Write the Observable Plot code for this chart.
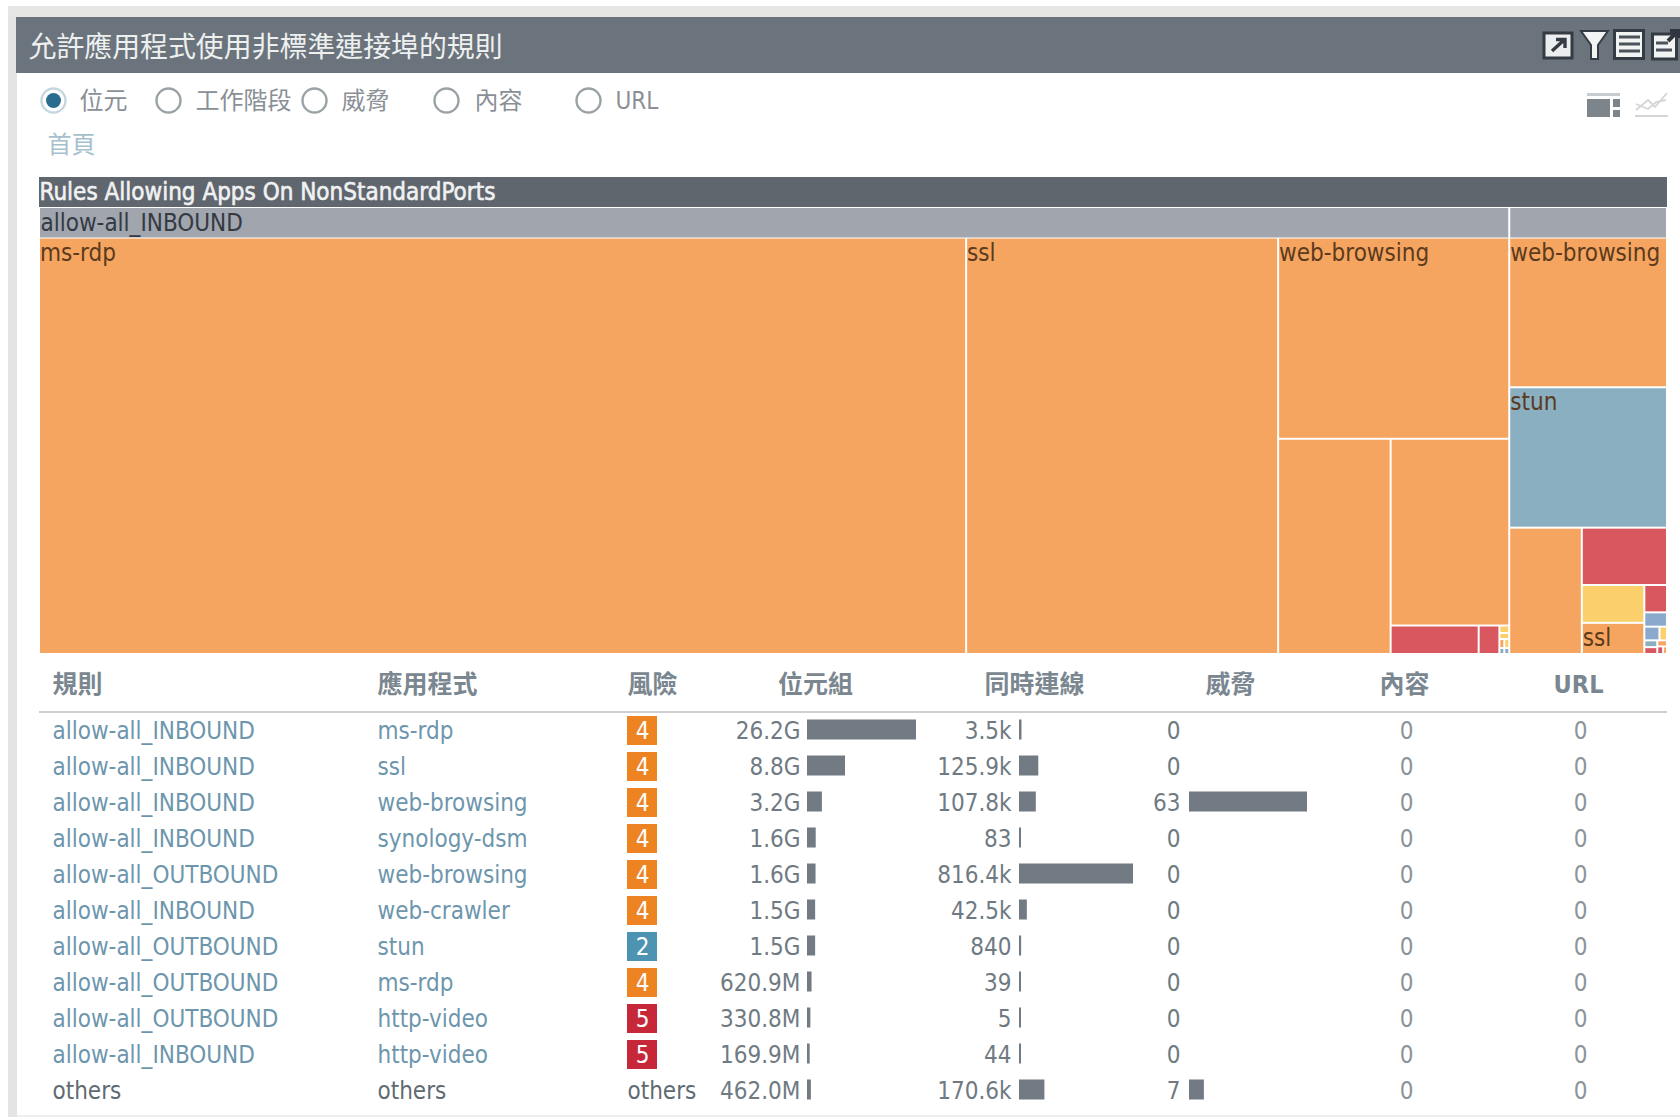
<!DOCTYPE html>
<html lang="zh-Hant">
<head>
<meta charset="utf-8">
<title>允許應用程式使用非標準連接埠的規則</title>
<script src="https://cdn.jsdelivr.net/npm/d3@7"></script>
<script src="https://cdn.jsdelivr.net/npm/@observablehq/plot@0.6"></script>
<style>html,body{margin:0;padding:0;background:#fff;overflow:hidden}svg{display:block}</style>
</head>
<body>
<div id="chart"></div>
<script>
// ---- table data ----
const rules = ["allow-all_INBOUND","allow-all_INBOUND","allow-all_INBOUND","allow-all_INBOUND","allow-all_OUTBOUND","allow-all_INBOUND","allow-all_OUTBOUND","allow-all_OUTBOUND","allow-all_OUTBOUND","allow-all_INBOUND","others"];
const apps = ["ms-rdp","ssl","web-browsing","synology-dsm","web-browsing","web-crawler","stun","ms-rdp","http-video","http-video","others"];
const risks = [4,4,4,4,4,4,2,4,5,5,"others"];
const bytesLabels = ["26.2G","8.8G","3.2G","1.6G","1.6G","1.5G","1.5G","620.9M","330.8M","169.9M","462.0M"];
const bytesValues = [26150,8800,3150,1640,1600,1500,1500,620.9,330.8,169.9,462];
const sessionLabels = ["3.5k","125.9k","107.8k","83","816.4k","42.5k","840","39","5","44","170.6k"];
const sessionValues = [3500,125900,107800,83,816400,42500,840,39,5,44,170600];
const threatValues = [0,0,63,0,0,0,0,0,0,0,7];
const contentValues = [0,0,0,0,0,0,0,0,0,0,0];
const urlValues = [0,0,0,0,0,0,0,0,0,0,0];
const columnHeads = ["規則","應用程式","風險","位元組","同時連線","威脅","內容","URL"];
// ---- small treemap cells rolled into "others" in the table (bytes in M, risk) ----
const smallInbound = [["app-a",40,5],["app-b",5,3],["app-c",4,3],["app-d",3,4],["app-e",3,3],["app-f",2,2],["app-g",2,1]];
const smallOutbound = [["app-h",160,3],["ssl",132,4],["app-i",42,5],["app-j",22,1],["app-k",14,1],["app-l",7,3],["app-m",6,2],["app-n",6,5],["app-o",4,4],["app-p",3,5],["app-q",2,4]];
const treemapColors = {1:"#8aa9cc",2:"#8aafc1",3:"#fbcf6b",4:"#f5a55f",5:"#d9575f"};
const badgeColors = {2:"#4d94b3",4:"#ee8322",5:"#c6283a"};

const latin = "'DejaVu Sans Condensed','DejaVu Sans',sans-serif";
const cjk = "'Noto Sans CJK TC','Noto Sans',sans-serif";
const mixed = "'DejaVu Sans Condensed','Noto Sans CJK TC',sans-serif";

// ---- treemap layout from the values ----
const leaves = (rule) => rules.map((r,i)=>({r,i})).filter(d=>d.r===rule)
  .map(d=>({name:apps[d.i],value:bytesValues[d.i],risk:risks[d.i]}));
const fromSmall = s => s.map(([name,value,risk])=>({name,value,risk}));
const tree = {name:"root",children:[
  {name:"allow-all_INBOUND",children:[...leaves("allow-all_INBOUND"),...fromSmall(smallInbound)]},
  {name:"allow-all_OUTBOUND",children:[...leaves("allow-all_OUTBOUND"),...fromSmall(smallOutbound)]}
]};
const root = d3.hierarchy(tree).sum(d=>d.value||0).sort((a,b)=>b.value-a.value);
d3.treemap().tile(d3.treemapSquarify.ratio(1)).size([1628,446])
  .paddingTop(d=>d.depth===1?29.5:0)(root);
root.each(d=>{d.x0+=39;d.x1+=39;d.y0+=208;d.y1+=208;});
const groups = root.children;
const cells = root.leaves();
const labelled = cells.filter(d=>d.x1-d.x0 >= d.data.name.length*12.5 && d.y1-d.y0 >= 24);

// ---- table rows ----
const rowY = d3.scaleLinear().domain([0,1]).range([730.5,766.5]);
const rows = rules.map((rule,i)=>({i,rule,app:apps[i],risk:risks[i],bl:bytesLabels[i],b:bytesValues[i],sl:sessionLabels[i],s:sessionValues[i],t:threatValues[i],c:contentValues[i],u:urlValues[i],y:rowY(i)}));
const barEnd = (start,len,max) => v => start+2+(v/max)*(len-2);
const bytesEnd = barEnd(807,109,d3.max(bytesValues));
const sessEnd = barEnd(1019,114,d3.max(sessionValues));
const threatEnd = barEnd(1189,118,d3.max(threatValues));
const linkColor = d=>d.rule==="others"?"#5f6b73":"#6d96ad";

const text = (data,o)=>Plot.text(data,{lineAnchor:"middle",textAnchor:"start",fontFamily:latin,fontSize:24,...o});
const one = (o)=>text([0],o);
const band = (x1,x2,y1,y2,fill)=>Plot.rect([0],{x1:()=>x1,x2:()=>x2,y1:()=>y1,y2:()=>y2,fill});

// ---- icons (panel chrome) ----
const icons = () => {
  const g = document.createElementNS("http://www.w3.org/2000/svg","g");
  g.innerHTML = `
  <rect x="1544" y="33" width="28" height="25" fill="#ecedee" stroke="#343b42" stroke-width="3"/>
  <path d="M1552 51 L1564 40 M1556 39.5 H1565 V48" fill="none" stroke="#343b42" stroke-width="3.4"/>
  <path d="M1581 31 H1608 L1598 45 V59 H1591 V45 Z" fill="#f2f3f3" stroke="#343b42" stroke-width="2"/>
  <rect x="1614.5" y="30.5" width="29" height="28" fill="#f2f3f3" stroke="#343b42" stroke-width="3"/>
  <path d="M1619 37 H1640 M1619 44 H1640 M1619 51 H1640" stroke="#4a525a" stroke-width="3"/>
  <rect x="1652.5" y="34" width="24" height="25" fill="#f2f3f3" stroke="#343b42" stroke-width="3"/>
  <path d="M1656 43 H1668 M1656 50 H1672" stroke="#4a525a" stroke-width="3"/>
  <path d="M1668 41 L1678 31 M1670 31 H1680 V38" fill="none" stroke="#2f363d" stroke-width="4"/>
  <rect x="1587" y="93" width="33" height="3" fill="#c8ccd0"/>
  <rect x="1587" y="99" width="23" height="18" fill="#7c848c"/>
  <rect x="1613" y="99" width="7" height="8" fill="#7c848c"/>
  <rect x="1613" y="110" width="7" height="7" fill="#7c848c"/>
  <path d="M1636 110 L1648 100 L1655 107 L1667 93 M1636 104 L1648 109 L1656 102 L1666 100 M1635 116 H1668" fill="none" stroke="#d4d6d6" stroke-width="1.8"/>`;
  return g;
};

const radios = [{x:53,on:true},{x:168},{x:314},{x:446},{x:588}];
const radioText = [{x:79,t:"位元"},{x:195,t:"工作階段"},{x:341,t:"威脅"},{x:474,t:"內容"},{x:615,t:"URL"}];
const headsStart = [{x:52,c:0},{x:377,c:1},{x:627,c:2}];
const headsMiddle = [{x:815,c:3},{x:1034,c:4},{x:1230,c:5},{x:1404,c:6},{x:1578,c:7}];
const headStyle = {x:"x",y:()=>684,text:d=>columnHeads[d.c],fontFamily:mixed,fontSize:25,fontWeight:"bold",fill:"#7b8790"};

const chart = Plot.plot({
  width:1680,height:1117,margin:0,
  x:{domain:[0,1680],range:[0,1680],axis:null},
  y:{domain:[0,1117],range:[0,1117],axis:null},
  color:{type:"identity"},
  style:{background:"#fff"},
  marks:[
    // panel
    band(8,1680,6,17,"#e6e6e4"),
    band(8,17,17,1117,"#e4e4e4"),
    band(17,1680,1115,1117,"#eeeeee"),
    band(16,1680,17,73,"#6b747c"),
    one({x:()=>28,y:()=>47.5,text:()=>"允許應用程式使用非標準連接埠的規則",fontFamily:cjk,fontSize:27.9,fill:"#eef0f0"}),
    icons,
    // radios
    Plot.dot(radios,{x:"x",y:()=>100,r:12,stroke:d=>d.on?"#c4d6df":"#9aa2a6",strokeWidth:2.4,fill:"#fff"}),
    Plot.dot(radios.filter(d=>d.on),{x:"x",y:()=>100,r:7.5,fill:"#2a6d8f"}),
    text(radioText,{x:"x",y:()=>101,text:"t",fontFamily:mixed,fontSize:24,fill:"#8a9096"}),
    one({x:()=>47,y:()=>145,text:()=>"首頁",fontFamily:cjk,fontSize:24,fill:"#a6c1cd"}),
    // treemap
    band(39,1667,177,207,"#5f666e"),
    one({x:()=>39,y:()=>192,text:()=>"Rules Allowing Apps On NonStandardPorts",fontSize:24,fill:"#f0f1f2",stroke:"#f0f1f2",strokeWidth:0.6}),
    Plot.rect(groups,{x1:d=>d.x0,x2:d=>d.x1,y1:d=>d.y0,y2:d=>d.y0+29.5,insetRight:1,insetLeft:1,fill:()=>"#a0a5ae"}),
    text(groups.slice(0,1),{x:d=>d.x0+1,y:d=>d.y0+15,text:d=>d.data.name,fill:"#333a42"}),
    Plot.rect(cells,{x1:d=>d.x0,x2:d=>d.x1,y1:d=>d.y0,y2:d=>d.y1,inset:1,fill:d=>treemapColors[d.data.risk]}),
    text(labelled,{x:d=>d.x0+0.5,y:d=>d.y0+15,text:d=>d.data.name,fill:"#5b3a1e"}),
    // table head
    text(headsStart,headStyle),
    text(headsMiddle,{...headStyle,textAnchor:"middle"}),
    Plot.rect([0],{x1:()=>39,x2:()=>1667,y1:()=>711,y2:()=>713,fill:"#cfcfcf"}),
    // table rows
    text(rows,{x:()=>52,y:"y",text:"rule",fill:linkColor}),
    text(rows,{x:()=>377,y:"y",text:"app",fill:linkColor}),
    Plot.rect(rows.filter(d=>d.risk!=="others"),{x1:()=>627,x2:()=>657,y1:d=>d.y-14.5,y2:d=>d.y+14.5,fill:d=>badgeColors[d.risk]}),
    text(rows.filter(d=>d.risk!=="others"),{x:()=>642,y:"y",text:"risk",textAnchor:"middle",fill:"#fff"}),
    text(rows.filter(d=>d.risk==="others"),{x:()=>627,y:"y",text:"risk",fill:"#5f6b73"}),
    text(rows,{x:()=>800,y:"y",text:"bl",textAnchor:"end",fill:"#6f7a82"}),
    Plot.rect(rows,{x1:()=>807,x2:d=>bytesEnd(d.b),y1:d=>d.y-11,y2:d=>d.y+9,fill:"#727b84"}),
    text(rows,{x:()=>1011,y:"y",text:"sl",textAnchor:"end",fill:"#6f7a82"}),
    Plot.rect(rows,{x1:()=>1019,x2:d=>sessEnd(d.s),y1:d=>d.y-11,y2:d=>d.y+9,fill:"#727b84"}),
    text(rows,{x:()=>1180,y:"y",text:"t",textAnchor:"end",fill:"#6f7a82"}),
    Plot.rect(rows.filter(d=>d.t>0),{x1:()=>1189,x2:d=>threatEnd(d.t),y1:d=>d.y-11,y2:d=>d.y+9,fill:"#727b84"}),
    text(rows,{x:()=>1413,y:"y",text:"c",textAnchor:"end",fill:"#8a949b"}),
    text(rows,{x:()=>1587,y:"y",text:"u",textAnchor:"end",fill:"#8a949b"})
  ]
});
document.getElementById("chart").append(chart);
</script>
</body>
</html>
